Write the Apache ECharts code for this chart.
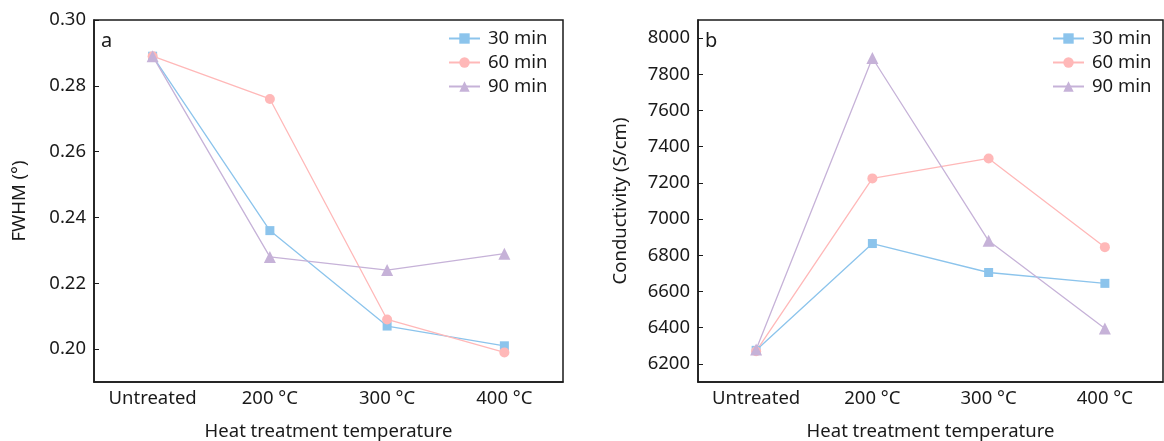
<!DOCTYPE html>
<html>
<head>
<meta charset="utf-8">
<script src="https://cdn.jsdelivr.net/npm/echarts@6/dist/echarts.min.js"></script>
<style>
  html, body { margin: 0; padding: 0; background: #fff; }
  #main { width: 1164px; height: 441px; }
</style>
</head>
<body>
<div id="main"></div>
<script>
// 数据
var categories = ["Untreated", "200 °C", "300 °C", "400 °C"];
var seriesNames = ["30 min", "60 min", "90 min"];

var fwhm30 = [0.289, 0.236, 0.207, 0.201];
var fwhm60 = [0.289, 0.276, 0.209, 0.199];
var fwhm90 = [0.289, 0.228, 0.224, 0.229];

var cond30 = [6275, 6865, 6705, 6645];
var cond60 = [6270, 7225, 7335, 6845];
var cond90 = [6280, 7890, 6880, 6395];

var fwhmTicks = [0.20, 0.22, 0.24, 0.26, 0.28, 0.30];
var condTicks = [6200, 6400, 6600, 6800, 7000, 7200, 7400, 7600, 7800, 8000];

var colors = ["#8cc4ec", "#ffb8b8", "#c6b2d8"];
var symbols = ["rect", "circle", "triangle"];
var symbolSizes = [9, 10, 12];
var fontFamily = "Noto Sans";
var fontSize = 18.5;
var ink = "#1a1a1a";

var myChart = echarts.init(document.getElementById("main"));

function makeX(gridIndex) {
  return {
    type: "category",
    gridIndex: gridIndex,
    data: categories,
    name: "Heat treatment temperature",
    nameLocation: "middle",
    nameGap: 40,
    nameTextStyle: { fontSize: fontSize, color: ink, fontFamily: fontFamily },
    axisLine: { lineStyle: { color: ink, width: 1.5 } },
    axisTick: { alignWithLabel: true, inside: true, length: 5, lineStyle: { color: ink } },
    axisLabel: { fontSize: fontSize, color: ink, fontFamily: fontFamily, margin: 7 },
    splitLine: { show: false }
  };
}

function makeY(gridIndex, name, min, max, ticks, nameGap, fmt) {
  return {
    type: "value",
    gridIndex: gridIndex,
    min: min,
    max: max,
    name: name,
    nameLocation: "middle",
    nameGap: nameGap,
    nameTextStyle: { fontSize: fontSize, color: ink, fontFamily: fontFamily },
    axisLine: { show: true, lineStyle: { color: ink, width: 1.5 } },
    axisTick: { show: true, inside: true, length: 5, customValues: ticks, lineStyle: { color: ink } },
    axisLabel: { fontSize: fontSize, color: ink, fontFamily: fontFamily, margin: 8, customValues: ticks, formatter: fmt },
    splitLine: { show: false }
  };
}

function makeSeries(idx, data, axisIndex) {
  return {
    name: seriesNames[idx],
    type: "line",
    xAxisIndex: axisIndex,
    yAxisIndex: axisIndex,
    data: data,
    symbol: symbols[idx],
    symbolSize: symbolSizes[idx],
    showAllSymbol: true,
    color: colors[idx],
    lineStyle: { width: 1.3, color: colors[idx] },
    itemStyle: { color: colors[idx] },
    emphasis: { disabled: true }
  };
}

function makeLegend(left) {
  return {
    orient: "vertical",
    left: left,
    top: 24,
    itemWidth: 31,
    itemHeight: 13,
    itemGap: 5,
    data: seriesNames,
    textStyle: { fontSize: fontSize, lineHeight: 18, color: ink, fontFamily: fontFamily, padding: [0, 0, 0, 3] }
  };
}

var option = {
  animation: false,
  title: [
    { text: "a", left: 96, top: 26, textStyle: { fontSize: 20, fontWeight: "normal", color: ink, fontFamily: fontFamily } },
    { text: "b", left: 700, top: 26, textStyle: { fontSize: 20, fontWeight: "normal", color: ink, fontFamily: fontFamily } }
  ],
  legend: [makeLegend(443), makeLegend(1047)],
  grid: [
    { left: 94, top: 20, width: 469, height: 362, show: true, borderColor: ink, borderWidth: 1.5, outerBoundsMode: "none" },
    { left: 698, top: 20, width: 465, height: 362, show: true, borderColor: ink, borderWidth: 1.5, outerBoundsMode: "none" }
  ],
  xAxis: [makeX(0), makeX(1)],
  yAxis: [
    makeY(0, "FWHM (°)", 0.19, 0.30, fwhmTicks, 65, function (v) { return v.toFixed(2); }),
    makeY(1, "Conductivity (S/cm)", 6100, 8100, condTicks, 68, function (v) { return String(v); })
  ],
  series: [
    makeSeries(0, fwhm30, 0),
    makeSeries(1, fwhm60, 0),
    makeSeries(2, fwhm90, 0),
    makeSeries(0, cond30, 1),
    makeSeries(1, cond60, 1),
    makeSeries(2, cond90, 1)
  ]
};

myChart.setOption(option);
</script>
</body>
</html>
